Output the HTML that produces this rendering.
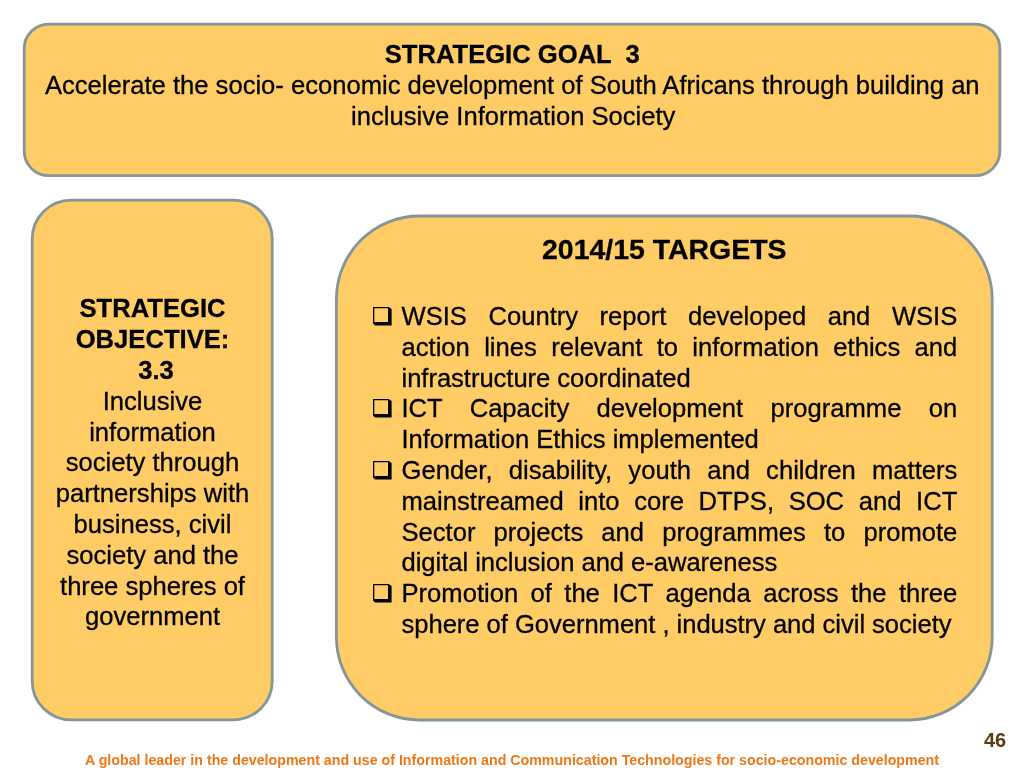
<!DOCTYPE html>
<html lang="en">
<head>
<meta charset="utf-8">
<title>Strategic Goal 3</title>
<style>
html,body{margin:0;padding:0;background:#fff;}
body{width:1024px;height:768px;position:relative;overflow:hidden;font-family:"Liberation Sans",Arial,Helvetica,sans-serif;color:#000;}
.ln{position:absolute;-webkit-text-stroke:0.3px #000;font-size:25.6px;line-height:30px;height:30px;white-space:pre;}
.c{text-align:center;}
.n{letter-spacing:-0.04px;}
.b{font-weight:bold;}
.j{text-align:justify;text-align-last:justify;white-space:normal;}
.h{font-size:28.44px;line-height:34px;height:34px;}
.bul{position:absolute;width:19px;height:19px;overflow:visible;}
#foot{position:absolute;left:0;width:1024px;text-align:center;top:751px;font-size:14.22px;line-height:18px;font-weight:bold;color:#ee7818;white-space:pre;}
#pg{position:absolute;left:983px;width:24px;text-align:center;top:728px;font-size:19.9px;line-height:24px;font-weight:bold;color:#5a3a10;}
</style>
</head>
<body>
<svg id="boxes" width="1024" height="768" viewBox="0 0 1024 768" style="position:absolute;left:0;top:0;" aria-hidden="true">
<g fill="#ffcc66" stroke="#83959a" stroke-width="2.8">
<rect x="24.2" y="24.1" width="975.7" height="151.6" rx="24.6" ry="24.6"/>
<rect x="32.2" y="200.1" width="240" height="519.8" rx="39" ry="39"/>
<rect x="336.4" y="216" width="655.8" height="504" rx="83" ry="83"/>
</g>
</svg>

<div class="ln c b" style="left:23px;width:978.5px;top:39px;">STRATEGIC GOAL  3</div>
<div class="ln c" style="left:23px;width:978.5px;top:70px;">Accelerate the socio- economic development of South Africans through building an</div>
<div class="ln c" style="left:24px;width:978.5px;top:101px;">inclusive Information Society</div>

<div class="ln c b" style="left:31.5px;width:242px;top:293px;">STRATEGIC</div>
<div class="ln c b" style="left:31.5px;width:242px;top:324px;">OBJECTIVE:</div>
<div class="ln c b" style="left:31.5px;width:242px;top:355px;"> 3.3</div>
<div class="ln c" style="left:31.5px;width:242px;top:386px;">Inclusive</div>
<div class="ln c" style="left:31.5px;width:242px;top:417px;">information</div>
<div class="ln c" style="left:31.5px;width:242px;top:447px;">society through</div>
<div class="ln c" style="left:31.5px;width:242px;top:478px;">partnerships with</div>
<div class="ln c" style="left:31.5px;width:242px;top:509px;">business, civil</div>
<div class="ln c" style="left:31.5px;width:242px;top:540px;">society and the</div>
<div class="ln c" style="left:31.5px;width:242px;top:571px;">three spheres of</div>
<div class="ln c" style="left:31.5px;width:242px;top:601px;">government</div>

<div class="ln c b h" style="left:335px;width:658.5px;top:232px;">2014/15 TARGETS</div>

<svg class="bul" style="left:372.9px;top:306.9px;" viewBox="0 0 19 19" aria-hidden="true"><path fill="#000" fill-rule="evenodd" d="M0 0H15.8L18.6 1.9V18.5H2L0 16.4ZM1.3 1.3V15H15V1.3Z"/></svg>
<div class="ln j" style="left:401.5px;width:555.8px;top:301px;">WSIS Country report developed and WSIS</div>
<div class="ln j" style="left:401.5px;width:555.8px;top:332px;">action lines relevant to information ethics and</div>
<div class="ln n" style="left:401.5px;top:363px;">infrastructure coordinated</div>
<svg class="bul" style="left:372.9px;top:398.9px;" viewBox="0 0 19 19" aria-hidden="true"><path fill="#000" fill-rule="evenodd" d="M0 0H15.8L18.6 1.9V18.5H2L0 16.4ZM1.3 1.3V15H15V1.3Z"/></svg>
<div class="ln j" style="left:401.5px;width:555.8px;top:393px;">ICT Capacity development programme on</div>
<div class="ln n" style="left:401.5px;top:424px;">Information Ethics implemented</div>
<svg class="bul" style="left:372.9px;top:460.9px;" viewBox="0 0 19 19" aria-hidden="true"><path fill="#000" fill-rule="evenodd" d="M0 0H15.8L18.6 1.9V18.5H2L0 16.4ZM1.3 1.3V15H15V1.3Z"/></svg>
<div class="ln j" style="left:401.5px;width:555.8px;top:455px;">Gender, disability, youth and children matters</div>
<div class="ln j" style="left:401.5px;width:555.8px;top:486px;">mainstreamed into core DTPS, SOC and ICT</div>
<div class="ln j" style="left:401.5px;width:555.8px;top:517px;">Sector projects and programmes to promote</div>
<div class="ln n" style="left:401.5px;top:547px;">digital inclusion and e-awareness</div>
<svg class="bul" style="left:372.9px;top:583.9px;" viewBox="0 0 19 19" aria-hidden="true"><path fill="#000" fill-rule="evenodd" d="M0 0H15.8L18.6 1.9V18.5H2L0 16.4ZM1.3 1.3V15H15V1.3Z"/></svg>
<div class="ln j" style="left:401.5px;width:555.8px;top:578px;">Promotion of the ICT agenda across the three</div>
<div class="ln n" style="left:401.5px;top:609px;">sphere of Government , industry and civil society</div>

<div id="foot">A global leader in the development and use of Information and Communication Technologies for socio-economic development</div>
<div id="pg">46</div>
</body>
</html>
